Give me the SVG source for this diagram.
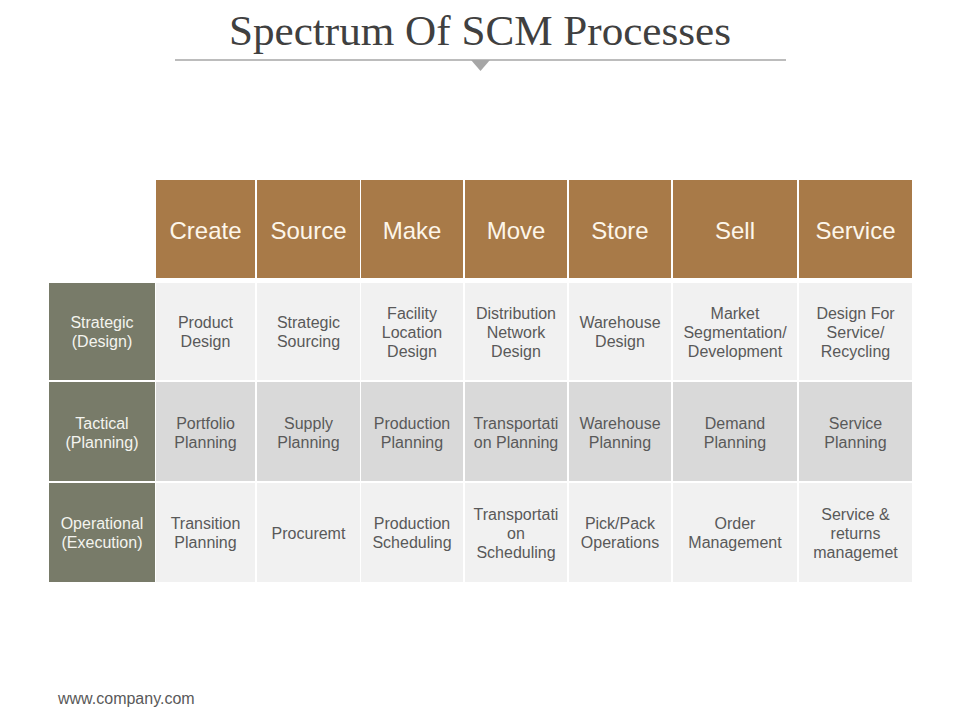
<svg xmlns="http://www.w3.org/2000/svg" width="960" height="720" viewBox="0 0 960 720">
<style>
.hd{fill:#a87a48}
.rl{fill:#787b69}
.c1{fill:#f1f1f1}
.c2{fill:#d9d9d9}
.ht{font-family:"Liberation Sans",Arial,sans-serif;font-size:24px;fill:#fdf6ea;text-anchor:middle}
.lt{font-family:"Liberation Sans",Arial,sans-serif;font-size:16px;fill:#f4f4ef;text-anchor:middle}
.bt{font-family:"Liberation Sans",Arial,sans-serif;font-size:16px;fill:#595959;text-anchor:middle}
</style>
<rect width="960" height="720" fill="#ffffff"/>
<g id="title">
<text x="480" y="45" font-family="'Liberation Serif','Times New Roman',serif" font-size="42" fill="#404040" text-anchor="middle" textLength="502" lengthAdjust="spacingAndGlyphs">Spectrum Of SCM Processes</text>
<line x1="175" y1="60" x2="786" y2="60" stroke="#a6a6a6" stroke-width="1.5"/>
<polygon points="471,60 490,60 480.5,71" fill="#a6a6a6"/>
</g>
<g id="header">
<rect class="hd" x="156" y="180" width="99" height="98"/><text class="ht" x="205.5" y="239">Create</text>
<rect class="hd" x="257" y="180" width="103" height="98"/><text class="ht" x="308.5" y="239">Source</text>
<rect class="hd" x="361" y="180" width="102" height="98"/><text class="ht" x="412" y="239">Make</text>
<rect class="hd" x="465" y="180" width="102" height="98"/><text class="ht" x="516" y="239">Move</text>
<rect class="hd" x="569" y="180" width="102" height="98"/><text class="ht" x="620" y="239">Store</text>
<rect class="hd" x="673" y="180" width="124" height="98"/><text class="ht" x="735" y="239">Sell</text>
<rect class="hd" x="799" y="180" width="113" height="98"/><text class="ht" x="855.5" y="239">Service</text>
</g>
<g id="row-strategic">
<rect class="rl" x="49" y="283" width="106" height="97"/>
<text class="lt" x="102" y="328">Strategic</text><text class="lt" x="102" y="347">(Design)</text>
<rect class="c1" x="156" y="283" width="99" height="97"/>
<text class="bt" x="205.5" y="328">Product</text><text class="bt" x="205.5" y="347">Design</text>
<rect class="c1" x="257" y="283" width="103" height="97"/>
<text class="bt" x="308.5" y="328">Strategic</text><text class="bt" x="308.5" y="347">Sourcing</text>
<rect class="c1" x="361" y="283" width="102" height="97"/>
<text class="bt" x="412" y="318.5">Facility</text><text class="bt" x="412" y="337.5">Location</text><text class="bt" x="412" y="356.5">Design</text>
<rect class="c1" x="465" y="283" width="102" height="97"/>
<text class="bt" x="516" y="318.5">Distribution</text><text class="bt" x="516" y="337.5">Network</text><text class="bt" x="516" y="356.5">Design</text>
<rect class="c1" x="569" y="283" width="102" height="97"/>
<text class="bt" x="620" y="328">Warehouse</text><text class="bt" x="620" y="347">Design</text>
<rect class="c1" x="673" y="283" width="124" height="97"/>
<text class="bt" x="735" y="318.5">Market</text><text class="bt" x="735" y="337.5">Segmentation/</text><text class="bt" x="735" y="356.5">Development</text>
<rect class="c1" x="799" y="283" width="113" height="97"/>
<text class="bt" x="855.5" y="318.5">Design For</text><text class="bt" x="855.5" y="337.5">Service/</text><text class="bt" x="855.5" y="356.5">Recycling</text>
</g>
<g id="row-tactical">
<rect class="rl" x="49" y="382" width="106" height="99"/>
<text class="lt" x="102" y="428.5">Tactical</text><text class="lt" x="102" y="447.5">(Planning)</text>
<rect class="c2" x="156" y="382" width="99" height="99"/>
<text class="bt" x="205.5" y="428.5">Portfolio</text><text class="bt" x="205.5" y="447.5">Planning</text>
<rect class="c2" x="257" y="382" width="103" height="99"/>
<text class="bt" x="308.5" y="428.5">Supply</text><text class="bt" x="308.5" y="447.5">Planning</text>
<rect class="c2" x="361" y="382" width="102" height="99"/>
<text class="bt" x="412" y="428.5">Production</text><text class="bt" x="412" y="447.5">Planning</text>
<rect class="c2" x="465" y="382" width="102" height="99"/>
<text class="bt" x="516" y="428.5">Transportati</text><text class="bt" x="516" y="447.5">on Planning</text>
<rect class="c2" x="569" y="382" width="102" height="99"/>
<text class="bt" x="620" y="428.5">Warehouse</text><text class="bt" x="620" y="447.5">Planning</text>
<rect class="c2" x="673" y="382" width="124" height="99"/>
<text class="bt" x="735" y="428.5">Demand</text><text class="bt" x="735" y="447.5">Planning</text>
<rect class="c2" x="799" y="382" width="113" height="99"/>
<text class="bt" x="855.5" y="428.5">Service</text><text class="bt" x="855.5" y="447.5">Planning</text>
</g>
<g id="row-operational">
<rect class="rl" x="49" y="483" width="106" height="99"/>
<text class="lt" x="102" y="529">Operational</text><text class="lt" x="102" y="548">(Execution)</text>
<rect class="c1" x="156" y="483" width="99" height="99"/>
<text class="bt" x="205.5" y="529">Transition</text><text class="bt" x="205.5" y="548">Planning</text>
<rect class="c1" x="257" y="483" width="103" height="99"/>
<text class="bt" x="308.5" y="538.5">Procuremt</text>
<rect class="c1" x="361" y="483" width="102" height="99"/>
<text class="bt" x="412" y="529">Production</text><text class="bt" x="412" y="548">Scheduling</text>
<rect class="c1" x="465" y="483" width="102" height="99"/>
<text class="bt" x="516" y="519.5">Transportati</text><text class="bt" x="516" y="538.5">on</text><text class="bt" x="516" y="557.5">Scheduling</text>
<rect class="c1" x="569" y="483" width="102" height="99"/>
<text class="bt" x="620" y="529">Pick/Pack</text><text class="bt" x="620" y="548">Operations</text>
<rect class="c1" x="673" y="483" width="124" height="99"/>
<text class="bt" x="735" y="529">Order</text><text class="bt" x="735" y="548">Management</text>
<rect class="c1" x="799" y="483" width="113" height="99"/>
<text class="bt" x="855.5" y="519.5">Service &amp;</text><text class="bt" x="855.5" y="538.5">returns</text><text class="bt" x="855.5" y="557.5">managemet</text>
</g>
<g id="footer">
<text x="58" y="704" font-family="'Liberation Sans',Arial,sans-serif" font-size="16" fill="#595959">www.company.com</text>
</g>
<g id="connectors"></g>
</svg>
